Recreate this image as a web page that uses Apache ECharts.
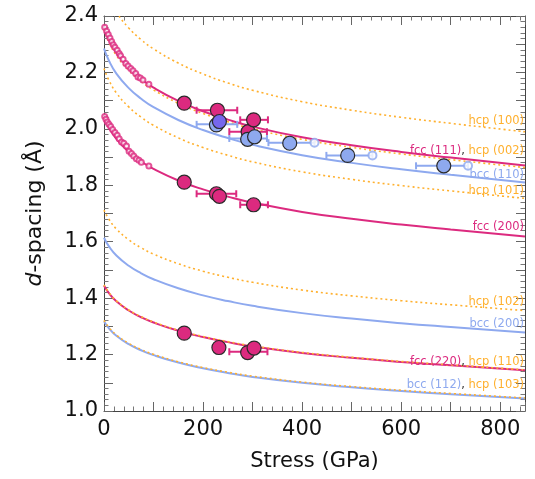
<!DOCTYPE html>
<html>
<head>
<meta charset="utf-8">
<script src="https://cdn.jsdelivr.net/npm/echarts@6/dist/echarts.min.js"></script>
<style>html,body{margin:0;padding:0;background:#fff}#c{width:535px;height:479px}</style>
</head>
<body>
<div id="c"></div>
<script>
// ---- data ----
const pressure = [0, 10, 25, 50, 75, 100, 150, 200, 250, 300, 400, 500, 600, 700, 850];

const fcc111 = [2.361, 2.3161, 2.2689, 2.2158, 2.1768, 2.1461, 2.0989, 2.0623, 2.0328, 2.0080, 1.9703, 1.9419, 1.9183, 1.8982, 1.8699];
const fcc200 = [2.044, 2.0052, 1.9643, 1.9183, 1.8846, 1.8580, 1.8171, 1.7854, 1.7599, 1.7384, 1.7057, 1.6812, 1.6608, 1.6434, 1.6188];
const fcc220 = [1.445, 1.4175, 1.3886, 1.3561, 1.3323, 1.3135, 1.2846, 1.2622, 1.2441, 1.2290, 1.2059, 1.1885, 1.1741, 1.1618, 1.1444];

const bcc110 = [2.285, 2.2416, 2.1959, 2.1445, 2.1068, 2.0771, 2.0314, 1.9959, 1.9674, 1.9434, 1.9068, 1.8794, 1.8566, 1.8371, 1.8097];
const bcc200 = [1.614, 1.5833, 1.5511, 1.5147, 1.4881, 1.4671, 1.4348, 1.4098, 1.3897, 1.3727, 1.3469, 1.3275, 1.3114, 1.2977, 1.2783];
const bcc112 = [1.318, 1.2930, 1.2666, 1.2369, 1.2152, 1.1981, 1.1717, 1.1513, 1.1348, 1.1209, 1.0999, 1.0841, 1.0709, 1.0597, 1.0439];

const hcp100 = [2.512, 2.4643, 2.4140, 2.3575, 2.3161, 2.2834, 2.2332, 2.1943, 2.1628, 2.1365, 2.0963, 2.0661, 2.0410, 2.0196, 1.9895];
const hcp002 = [2.352, 2.3073, 2.2603, 2.2074, 2.1685, 2.1380, 2.0909, 2.0545, 2.0251, 2.0004, 1.9627, 1.9345, 1.9110, 1.8910, 1.8628];
const hcp101 = [2.214, 2.1719, 2.1277, 2.0778, 2.0413, 2.0125, 1.9682, 1.9339, 1.9063, 1.8830, 1.8476, 1.8210, 1.7989, 1.7801, 1.7535];
const hcp102 = [1.712, 1.6795, 1.6452, 1.6067, 1.5785, 1.5562, 1.5220, 1.4954, 1.4740, 1.4561, 1.4287, 1.4081, 1.3910, 1.3764, 1.3559];
const hcp110 = [1.447, 1.4195, 1.3906, 1.3580, 1.3341, 1.3153, 1.2864, 1.2640, 1.2459, 1.2307, 1.2075, 1.1902, 1.1757, 1.1634, 1.1460];
const hcp103 = [1.321, 1.2959, 1.2695, 1.2398, 1.2180, 1.2008, 1.1744, 1.1539, 1.1374, 1.1235, 1.1024, 1.0865, 1.0733, 1.0621, 1.0462];

// low-pressure open circles (fcc)
const open111 = [[1.4,2.360],[5.4,2.346],[8.6,2.334],[12,2.322],[15.4,2.310],[18.6,2.298],[22,2.289],[26.6,2.279],[30.6,2.267],[33.4,2.259],[38.6,2.247],[44,2.232],[48.6,2.223],[54,2.214],[58.6,2.206],[64,2.196],[68.6,2.184],[73.4,2.180],[78.6,2.173],[90.6,2.158]];
const open200 = [[1.4,2.044],[4,2.034],[6.6,2.024],[10,2.016],[13.4,2.008],[17.4,1.998],[22,1.987],[26.6,1.977],[30.6,1.965],[35.4,1.953],[40,1.949],[45.4,1.939],[50.6,1.921],[55.4,1.913],[60,1.904],[65.4,1.894],[70.6,1.889],[75.4,1.882],[90.6,1.868]];

// filled fcc points
const fccPts = [[162,2.091],[229,2.066],[291,1.990],[302,2.032],
                [162,1.811],[227,1.770],[233,1.761],[302,1.731],
                [162,1.276],[232,1.225],[290,1.207],[303,1.223]];
const fccErr = [[187,269,2.066],[253,329,1.990],[275,331,2.032],
                [187,267,1.770],[275,331,1.731],
                [253,330,1.210]];

// bcc points
const bccPts = [[227,2.014],[290,1.963],[304,1.972],[375,1.949],[492,1.906],[686,1.869]];
const bccErr = [[187,269,2.016],[253,329,1.966],[332,425,1.951],[449,542,1.906],[630,735,1.869]];
const bccOpen = [[425,1.951],[542,1.906],[735,1.869]];
const purplePts = [[233,2.026]];

// axis ticks
const xTickLabels = [0, 200, 400, 600, 800];
const yTickLabels = [1.0, 1.2, 1.4, 1.6, 1.8, 2.0, 2.2, 2.4];

// curve labels
const labelTexts = ['{o|hcp (100)}', '{m|fcc (111)}{k|, }{o|hcp (002)}', '{b|bcc (110)}', '{o|hcp (101)}',
                    '{m|fcc (200)}', '{o|hcp (102)}', '{b|bcc (200)}', '{m|fcc (220)}{k|, }{o|hcp (110)}',
                    '{b|bcc (112)}{k|, }{o|hcp (103)}'];
const labelCurves = [hcp100, fcc111, bcc110, hcp101, fcc200, hcp102, bcc200, fcc220, bcc112];

// ---- styling ----
const MAG = '#DC2A7F', BLUE = '#8EA9EF', ORANGE = '#FFB02E', PURPLE = '#7667EC';
const FONT = 'DejaVu Sans';
const labelDy = [-11, -15, -8, -7.5, -9, -9, -8.5, -8.5, -14];

const zip = arr => pressure.map((p, i) => [p, arr[i]]);

function solid(name, arr, color) {
  return {name, type: 'line', data: zip(arr), smooth: true, symbol: 'none',
    lineStyle: {color, width: 2}, z: 2, clip: true};
}
function dotted(name, arr) {
  return {name, type: 'line', data: zip(arr), smooth: true, symbol: 'none',
    lineStyle: {color: ORANGE, width: 1.6, type: [2, 3]}, z: 3, clip: true};
}
function errSeries(data, color, z) {
  return {type: 'custom', data, z, encode: {x: [0, 1], y: 2},
    renderItem: (params, api) => {
      const lo = api.coord([api.value(0), api.value(2)]);
      const hi = api.coord([api.value(1), api.value(2)]);
      const h = 3.5, st = {stroke: color, lineWidth: 2};
      return {type: 'group', children: [
        {type: 'line', shape: {x1: lo[0], y1: lo[1], x2: hi[0], y2: hi[1]}, style: st},
        {type: 'line', shape: {x1: lo[0], y1: lo[1] - h, x2: lo[0], y2: lo[1] + h}, style: st},
        {type: 'line', shape: {x1: hi[0], y1: hi[1] - h, x2: hi[0], y2: hi[1] + h}, style: st}
      ]};
    }};
}

const LF = '11.5px "' + FONT + '"';
const RICH = {
  m: {fill: MAG, font: LF},
  o: {fill: ORANGE, font: LF},
  b: {fill: BLUE, font: LF},
  k: {fill: '#333', font: LF}
};

const labelData = labelCurves.map((c, i) => [pressure[pressure.length - 1], c[c.length - 1], i]);

const axisCommon = {
  min: 0, max: 850, interval: 100,
  axisLine: {show: true, onZero: false, lineStyle: {color: '#444', width: 1}},
  axisTick: {show: true, inside: true, length: 9, lineStyle: {color: '#666'}},
  minorTick: {show: true, splitNumber: 5, length: 4.5, lineStyle: {color: '#777'}},
  splitLine: {show: false}
};
const yCommon = {
  min: 1.0, max: 2.4, interval: 0.1,
  axisLine: {show: true, onZero: false, lineStyle: {color: '#444', width: 1}},
  axisTick: {show: true, inside: true, length: 9, lineStyle: {color: '#666'}},
  minorTick: {show: true, splitNumber: 5, length: 4.5, lineStyle: {color: '#777'}},
  splitLine: {show: false}
};

const chart = echarts.init(document.getElementById('c'), null, {renderer: 'canvas'});
chart.setOption({
  animation: false,
  backgroundColor: '#fff',
  grid: {left: 104, right: 10, top: 16, bottom: 68, containLabel: false},
  xAxis: [
    Object.assign({type: 'value', position: 'bottom',
      name: 'Stress (GPa)', nameLocation: 'middle', nameGap: 40,
      nameTextStyle: {fontSize: 21, fontFamily: FONT, color: '#111'},
      axisLabel: {fontSize: 21, fontFamily: FONT, color: '#111', margin: 8,
        formatter: v => xTickLabels.indexOf(v) >= 0 ? String(v) : ''}}, axisCommon),
    Object.assign({type: 'value', position: 'top', axisLabel: {show: false}}, axisCommon)
  ],
  yAxis: [
    Object.assign({type: 'value', position: 'left',
      name: '{i|d}-spacing (Å)', nameLocation: 'middle', nameGap: 58,
      nameTextStyle: {fontSize: 22, fontFamily: FONT, color: '#111',
        rich: {i: {fontStyle: 'italic', fontSize: 22, fontFamily: FONT, color: '#111'}}},
      axisLabel: {fontSize: 21, fontFamily: FONT, color: '#111', margin: 6,
        formatter: v => yTickLabels.some(t => Math.abs(t - v) < 1e-6) ? v.toFixed(1) : ''}}, yCommon),
    Object.assign({type: 'value', position: 'right', axisLabel: {show: false}}, yCommon)
  ],
  series: [
    solid('fcc (111)', fcc111, MAG),
    solid('fcc (200)', fcc200, MAG),
    solid('fcc (220)', fcc220, MAG),
    solid('bcc (110)', bcc110, BLUE),
    solid('bcc (200)', bcc200, BLUE),
    solid('bcc (112)', bcc112, BLUE),
    dotted('hcp (100)', hcp100),
    dotted('hcp (002)', hcp002),
    dotted('hcp (101)', hcp101),
    dotted('hcp (102)', hcp102),
    dotted('hcp (110)', hcp110),
    dotted('hcp (103)', hcp103),
    {type: 'scatter', data: open111.concat(open200), symbol: 'emptyCircle', symbolSize: 5,
      itemStyle: {color: MAG, borderColor: MAG, borderWidth: 1.3}, z: 4},
    errSeries(fccErr, MAG, 5),
    {type: 'scatter', data: fccPts, symbol: 'circle', symbolSize: 14,
      itemStyle: {color: MAG, borderColor: '#2a2a2a', borderWidth: 1.2, opacity: 1}, z: 6},
    errSeries(bccErr, BLUE, 7),
    {type: 'scatter', data: bccOpen, symbol: 'emptyCircle', symbolSize: 8,
      itemStyle: {color: BLUE, borderColor: BLUE, borderWidth: 1.6}, z: 8},
    {type: 'scatter', data: bccPts, symbol: 'circle', symbolSize: 14,
      itemStyle: {color: BLUE, borderColor: '#2a2a2a', borderWidth: 1.2, opacity: 1}, z: 8},
    {type: 'scatter', data: purplePts, symbol: 'circle', symbolSize: 14,
      itemStyle: {color: PURPLE, borderColor: '#2a2a2a', borderWidth: 1.2, opacity: 1}, z: 9},
    {type: 'custom', data: labelData, z: 10, silent: true,
      renderItem: (params, api) => {
        const i = api.value(2);
        const pt = api.coord([api.value(0), api.value(1)]);
        return {type: 'text', x: pt[0] - 1, y: pt[1] + labelDy[i],
          style: {text: labelTexts[i], rich: RICH, align: 'right', verticalAlign: 'middle',
            font: LF, fill: '#333'}};
      }}
  ]
});
</script>
</body>
</html>
